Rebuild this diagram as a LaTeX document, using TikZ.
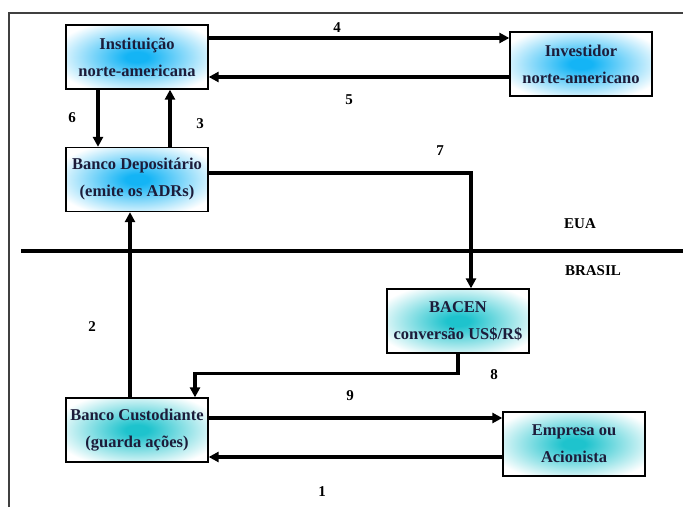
\documentclass[tikz,border=0pt]{standalone}
\usepackage{fontspec}
\setmainfont{Liberation Serif}
\usetikzlibrary{arrows.meta}

\definecolor{glowblue}{RGB}{20,180,245}
\definecolor{glowteal}{RGB}{30,195,205}
\definecolor{boxtext}{RGB}{28,28,58}
\pgfdeclareradialshading{blueglow}{\pgfpoint{0bp}{0bp}}{color(0bp)=(glowblue); color(4bp)=(glowblue); color(30bp)=(white); color(50bp)=(white)}
\pgfdeclareradialshading{tealglow}{\pgfpoint{0bp}{0bp}}{color(0bp)=(glowteal); color(4bp)=(glowteal); color(30bp)=(white); color(50bp)=(white)}

\begin{document}
\begin{tikzpicture}[x=1pt, y=1pt,
  party/.style={draw, line width=1.3pt, inner sep=0pt, minimum width=142pt, minimum height=64pt,
    align=center, text=boxtext, font=\bfseries\fontsize{16.5}{27}\selectfont},
  flow/.style={line width=3.5pt, -{Triangle[length=10pt, width=10pt]}},
  step label/.style={font=\bfseries\fontsize{15}{18}\selectfont}]
\useasboundingbox (0,0) rectangle (683,507);

% frame and border line
\draw[line width=1.2pt, black!75] (9,0) -- (9,494) -- (683,494);
\draw[line width=3.5pt] (21,256) -- (683,256);

\node[party, shading=blueglow] (inst)  at (137,450)   {Institui\c{c}\~ao\\norte-americana};
\node[party, shading=blueglow] (inv)   at (581,443)   {Investidor\\norte-americano};
\node[party, shading=blueglow] (dep)   at (137,327.5) {Banco Deposit\'ario\\(emite os ADRs)};
\node[party, shading=tealglow] (bacen) at (458,186)   {BACEN\\convers\~ao US\$/R\$};
\node[party, shading=tealglow] (cust)  at (137,77)    {Banco Custodiante\\(guarda a\c{c}\~oes)};
\node[party, shading=tealglow] (emp)   at (574,63)    {Empresa ou\\Acionista};

\draw[flow] ([yshift=19pt]inst.east) -- ([yshift=19pt]inst.east -| inv.west);
\draw[flow] ([yshift=-13pt]inv.west) -- ([yshift=-13pt]inv.west -| inst.east);
\draw[flow] ([xshift=-39pt]inst.south) -- ([xshift=-39pt]dep.north);
\draw[flow] ([xshift=33pt]dep.north) -- ([xshift=33pt]inst.south);
\draw[flow] ([yshift=6.5pt]dep.east) -| ([xshift=13pt]bacen.north);
\draw[flow] ([xshift=-7pt]cust.north) -- ([xshift=-7pt]dep.south);
\draw[flow] (bacen.south) -- ++(0,-20pt) -| ([xshift=58pt]cust.north);
\draw[flow] ([yshift=12pt]cust.east) -- ([yshift=12pt]cust.east -| emp.west);
\draw[flow] ([yshift=-13pt]emp.west) -- ([yshift=-13pt]emp.west -| cust.east);

\node[step label] (n4) at (337,479) {4};
\node[step label] (n5) at (349,407) {5};
\node[step label] (n6) at (72,389)  {6};
\node[step label] (n3) at (200,383) {3};
\node[step label] (n7) at (440,356) {7};
\node[step label] (n2) at (92,180)  {2};
\node[step label] (n8) at (494,132) {8};
\node[step label] (n9) at (350,111) {9};
\node[step label] (n1) at (322,15)  {1};

\node[step label] (eua)    at (580,283) {EUA};
\node[step label] (brasil) at (593,236) {BRASIL};
\end{tikzpicture}
\end{document}
